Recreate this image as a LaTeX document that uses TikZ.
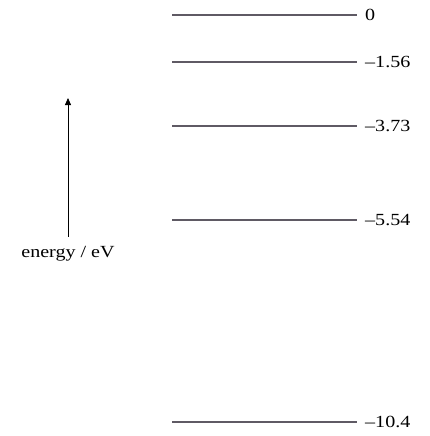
\documentclass[tikz,border=0pt]{standalone}
\usepackage{fontspec}
\setmainfont{Liberation Serif}
\usepackage{graphicx}
\usepackage{tikz}
\usetikzlibrary{positioning,arrows.meta}
\definecolor{levelgray}{RGB}{95,90,100}
\newcommand{\wide}[1]{\scalebox{1.18}[1]{#1}}

\begin{document}
\begin{tikzpicture}[x=1pt,y=-1pt,font=\fontsize{17}{20}\selectfont,
  level/.style={draw=levelgray,line width=1.8pt},
  val/.style={anchor=west,inner sep=0pt}]
\useasboundingbox (0,0) rectangle (430,436);
% energy levels
\foreach \y/\v [count=\i] in {14.7/0,61.7/--1.56,126/--3.73,220/--5.54,422/--10.4} {
  \coordinate (a\i) at (172,\y);
  \coordinate (b\i) at (357,\y);
  \draw[level] (a\i) -- (b\i);
  \node[val,right=8pt of b\i] (v\i) {\wide{\v}};
}
% axis arrow
\node[inner sep=0pt] (elbl) at (68,254) {\wide{energy / eV}};
\coordinate (etop) at (68,98);
\draw[-{Triangle[length=7pt,width=6pt]},line width=0.8pt,shorten <=9.5pt] (elbl.north) -- (etop);
\end{tikzpicture}
\end{document}
